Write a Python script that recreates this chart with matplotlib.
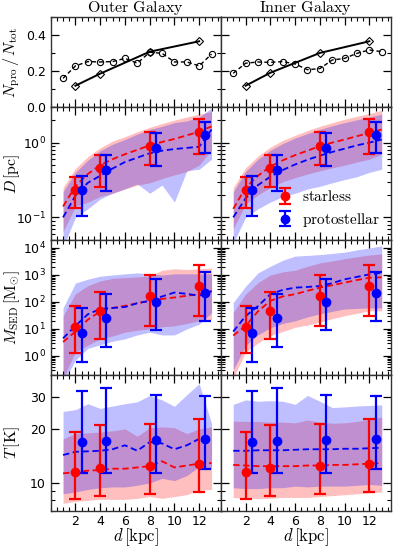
import numpy as np
import matplotlib
matplotlib.use("Agg")
import matplotlib.pyplot as plt
from matplotlib.ticker import MultipleLocator, FixedLocator, NullFormatter, FixedFormatter, LogLocator

plt.rcParams['mathtext.fontset'] = 'cm'
plt.rcParams['font.family'] = ['DejaVu Sans']
plt.rcParams['font.size'] = 9

# ---------------- data ----------------
xbin = [1, 2, 3, 4, 5, 6, 7, 8, 9, 10, 11, 12, 13]
x_star = [2, 4, 8, 12]
x_proto = [2.5, 4.5, 8.5, 12.5]
x_ticks = [2, 4, 6, 8, 10, 12]

# fraction panel
frac_diam_L = [0.118, 0.185, 0.307, 0.365]
frac_diam_R = [0.118, 0.190, 0.300, 0.365]
frac_circ_L = [0.159, 0.228, 0.252, 0.250, 0.252, 0.270, 0.243, 0.304, 0.298, 0.250, 0.250, 0.228, 0.294]
frac_circ_R = [0.187, 0.243, 0.250, 0.248, 0.252, 0.239, 0.207, 0.213, 0.261, 0.270, 0.298, 0.317, 0.307]

# D [pc]
D_star = [0.231, 0.464, 0.90, 1.40]
D_star_hi = [0.348, 0.677, 1.40, 2.09]
D_star_lo = [0.133, 0.257, 0.50, 0.713]
D_proto = [0.231, 0.427, 0.85, 1.25]
D_proto_hi = [0.36, 0.677, 1.33, 1.88]
D_proto_lo = [0.105, 0.222, 0.488, 0.736]

D_red_med_L = [0.14, 0.26, 0.38, 0.50, 0.60, 0.70, 0.80, 0.92, 1.02, 1.12, 1.25, 1.40, 1.65]
D_blue_med_L = [0.10, 0.195, 0.29, 0.36, 0.45, 0.55, 0.63, 0.72, 0.78, 0.82, 0.85, 0.88, 1.5]
D_red_hi_L = [0.25, 0.45, 0.65, 0.85, 1.05, 1.2, 1.4, 1.6, 1.8, 2.0, 2.2, 2.4, 2.6]
D_blue_hi_L = [0.22, 0.40, 0.58, 0.78, 0.95, 1.1, 1.3, 1.5, 1.65, 1.85, 1.95, 2.2, 2.9]
D_red_lo_L = [0.065, 0.14, 0.16, 0.19, 0.21, 0.24, 0.27, 0.29, 0.33, 0.37, 0.41, 0.5, 0.8]
D_blue_lo_L = [0.04, 0.10, 0.13, 0.176, 0.21, 0.24, 0.28, 0.21, 0.27, 0.16, 0.42, 0.44, 0.6]

D_red_med_R = [0.13, 0.25, 0.36, 0.48, 0.58, 0.68, 0.78, 0.90, 1.0, 1.1, 1.22, 1.35, 1.5]
D_blue_med_R = [0.10, 0.18, 0.27, 0.35, 0.43, 0.51, 0.59, 0.67, 0.75, 0.83, 0.92, 1.0, 1.1]
D_red_hi_R = [0.25, 0.46, 0.66, 0.87, 1.07, 1.25, 1.45, 1.65, 1.85, 2.05, 2.25, 2.45, 2.7]
D_blue_hi_R = [0.22, 0.41, 0.60, 0.79, 0.97, 1.15, 1.32, 1.5, 1.68, 1.85, 2.02, 2.2, 2.4]
D_red_lo_R = [0.07, 0.15, 0.20, 0.25, 0.30, 0.34, 0.38, 0.42, 0.46, 0.50, 0.55, 0.60, 0.70]
D_blue_lo_R = [0.045, 0.10, 0.13, 0.16, 0.19, 0.21, 0.24, 0.26, 0.29, 0.32, 0.35, 0.40, 0.44]

# M_SED [Msun]
M_star = [12.2, 45, 167, 390]
M_star_hi = [72, 243, 980, 2300]
M_star_lo = [1.3, 4.1, 12.6, 31]
M_proto = [7.0, 25, 104, 224]
M_proto_hi = [59, 193, 730, 1320]
M_proto_lo = [0.6, 2.1, 9.5, 20]

M_red_med_L = [3.3, 8, 22, 45, 60, 72, 90, 110, 130, 147, 170, 195, 250]
M_blue_med_L = [4.5, 13, 35, 55, 60, 65, 90, 110, 160, 224, 200, 170, 250]
M_red_hi_L = [30, 200, 400, 600, 750, 800, 850, 900, 1500, 1700, 1600, 1700, 1800]
M_blue_hi_L = [60, 500, 700, 900, 1000, 1100, 1200, 1100, 1000, 1100, 1100, 1100, 1100]
M_red_lo_L = [0.15, 1.4, 2.5, 4.3, 5.5, 7.6, 9, 10, 12, 13, 16, 20, 22]
M_blue_lo_L = [0.1, 0.7, 1.9, 2.6, 3.5, 4.3, 6, 7.6, 6, 6, 10, 15, 40]

M_red_med_R = [5.7, 13, 45, 110, 160, 195, 260, 340, 420, 520, 650, 790, 820]
M_blue_med_R = [8, 30, 70, 195, 280, 340, 360, 390, 500, 690, 850, 1050, 1200]
M_red_hi_R = [41, 195, 520, 1000, 1300, 1500, 2100, 2800, 3300, 4000, 4700, 5500, 6000]
M_blue_hi_R = [95, 380, 1200, 2100, 3500, 5000, 5300, 5700, 6300, 7000, 8500, 10000, 12000]
M_red_lo_R = [0.15, 1.4, 3, 5.7, 8, 11.5, 14, 18, 24, 31, 38, 47, 47]
M_blue_lo_R = [0.3, 2.4, 6, 11, 16, 20, 28, 36, 45, 55, 58, 60, 60]

# T [K]
T_star = [11.5, 12.1, 12.5, 12.8]
T_star_hi = [19.2, 20.9, 21.2, 22.6]
T_star_lo = [8.1, 8.5, 8.73, 8.9]
T_proto = [16.8, 17.1, 17.4, 17.5]
T_proto_hi = [32.3, 33.7, 30.7, 30.3]
T_proto_lo = [11.4, 11.4, 11.4, 11.9]

T_red_med_L = [11.3, 11.5, 11.7, 11.8, 12.0, 12.0, 12.2, 12.4, 13.2, 12.2, 12.5, 12.8, 12.9]
T_blue_med_L = [14.3, 14.9, 15.0, 15.1, 15.4, 16.2, 15.1, 16.9, 16.6, 15.4, 16.2, 17.6, 18.0]
T_red_hi_L = [17.6, 18.8, 19.0, 19.2, 19.5, 20.0, 18.2, 20.3, 20.5, 20.3, 18.8, 20.0, 20.5]
T_blue_hi_L = [25.0, 25.6, 27.6, 26.0, 26.8, 27.6, 28.3, 30.7, 29.0, 26.7, 31.0, 35.7, 21.4]
T_red_lo_L = [7.7, 7.9, 8.0, 8.1, 8.1, 8.1, 8.2, 8.4, 8.2, 8.4, 8.6, 9.1, 9.2]
T_blue_lo_L = [8.7, 8.9, 9.2, 9.4, 9.5, 9.5, 9.7, 10.0, 10.6, 10.3, 11.0, 12.3, 12.0]

T_red_med_R = [12.6, 12.5, 12.4, 12.4, 12.4, 12.4, 12.5, 12.5, 12.6, 12.6, 12.7, 12.8, 12.9]
T_blue_med_R = [15.1, 15.1, 15.2, 15.2, 15.2, 15.3, 15.4, 15.4, 15.4, 15.5, 15.5, 15.6, 15.7]
T_red_hi_R = [22.1, 22.0, 22.0, 21.8, 21.8, 21.6, 22.4, 21.8, 21.5, 21.6, 22.0, 22.6, 23.3]
T_blue_hi_R = [27.4, 29.0, 28.5, 28.7, 28.5, 27.4, 30.7, 28.5, 26.3, 26.5, 26.8, 27.0, 27.2]
T_red_lo_R = [8.3, 8.2, 8.2, 8.2, 8.3, 8.3, 8.3, 8.4, 8.5, 8.6, 8.7, 8.8, 8.9]
T_blue_lo_R = [9.4, 9.3, 9.3, 9.4, 9.4, 9.6, 9.5, 9.6, 9.6, 9.6, 9.7, 9.8, 9.7]

RED = '#ff0000'
BLUE = '#0000ff'

fig = plt.figure(figsize=(3.99, 5.48), dpi=100)
gs = fig.add_gridspec(4, 2, height_ratios=[90, 133, 135, 136], hspace=0, wspace=0,
                      left=0.127, right=0.98, top=0.969, bottom=0.068)
axes = [[fig.add_subplot(gs[r, c]) for c in range(2)] for r in range(4)]


def style(ax):
    ax.tick_params(which='both', direction='in', top=True, right=True, labelsize=9)
    ax.tick_params(which='major', length=5.5, width=0.9)
    ax.tick_params(which='minor', length=2.8, width=0.8)
    ax.tick_params(axis='x', pad=3)
    for s in ax.spines.values():
        s.set_linewidth(1.0)
        s.set_color('#333333')
    ax.set_xlim(0, 13.75)
    ax.xaxis.set_major_locator(FixedLocator(x_ticks))
    ax.xaxis.set_minor_locator(MultipleLocator(0.5))


def bands(ax, rlo, rhi, blo, bhi, rmed, bmed):
    ax.fill_between(xbin, rlo, rhi, color=RED, alpha=0.25, lw=0)
    ax.fill_between(xbin, blo, bhi, color=BLUE, alpha=0.25, lw=0)
    ax.plot(xbin, rmed, '--', color=RED, lw=1.3, dashes=(3.5, 2))
    ax.plot(xbin, bmed, '--', color=BLUE, lw=1.3, dashes=(3.5, 2))


def points(ax, ys, ys_lo, ys_hi, yp, yp_lo, yp_hi):
    ys, ys_lo, ys_hi = map(np.array, (ys, ys_lo, ys_hi))
    yp, yp_lo, yp_hi = map(np.array, (yp, yp_lo, yp_hi))
    h1 = ax.errorbar(x_star, ys, yerr=[ys - ys_lo, ys_hi - ys], fmt='o', color=RED,
                     ms=6, elinewidth=1.6, capsize=4, capthick=1.6, zorder=5)
    h2 = ax.errorbar(x_proto, yp, yerr=[yp - yp_lo, yp_hi - yp], fmt='o', color=BLUE,
                     ms=6, elinewidth=1.6, capsize=4, capthick=1.6, zorder=5)
    return h1, h2


# --- row 0: fraction
for c, (dia, circ) in enumerate([(frac_diam_L, frac_circ_L), (frac_diam_R, frac_circ_R)]):
    ax = axes[0][c]
    ax.plot(xbin, circ, '--', color='k', lw=1.0, marker='o', ms=4.5, mfc='none',
            mec='k', mew=0.8, dashes=(3, 2))
    ax.plot(x_star, dia, '-', color='k', lw=1.4, marker='D', ms=4.5, mfc='none',
            mec='k', mew=0.8)
    ax.set_ylim(0, 0.5)
    ax.yaxis.set_major_locator(MultipleLocator(0.2))
    ax.yaxis.set_minor_locator(MultipleLocator(0.1))

axes[0][0].set_title(r'$\mathrm{Outer\ Galaxy}$', fontsize=11.5, pad=0.5)
axes[0][1].set_title(r'$\mathrm{Inner\ Galaxy}$', fontsize=11.5, pad=0.5)
axes[0][0].set_ylabel(r'$N_{\rm pro}\,/\,N_{\rm tot}$', fontsize=11.5)

# --- row 1: D
Dsets = [(D_red_lo_L, D_red_hi_L, D_blue_lo_L, D_blue_hi_L, D_red_med_L, D_blue_med_L),
         (D_red_lo_R, D_red_hi_R, D_blue_lo_R, D_blue_hi_R, D_red_med_R, D_blue_med_R)]
for c in range(2):
    ax = axes[1][c]
    ax.set_yscale('log')
    bands(ax, *Dsets[c])
    h = points(ax, D_star, D_star_lo, D_star_hi, D_proto, D_proto_lo, D_proto_hi)
    ax.set_ylim(0.05, 3)
    if c == 1:
        ax.legend(h, [r'$\mathrm{starless}$', r'$\mathrm{protostellar}$'], loc='lower right',
                  frameon=False, fontsize=11, handlelength=1.0, handletextpad=0.6,
                  borderaxespad=0.3, labelspacing=0.45, numpoints=1)
axes[1][0].set_ylabel(r'$D\,[\mathrm{pc}]$', fontsize=11.5)

# --- row 2: M
Msets = [(M_red_lo_L, M_red_hi_L, M_blue_lo_L, M_blue_hi_L, M_red_med_L, M_blue_med_L),
         (M_red_lo_R, M_red_hi_R, M_blue_lo_R, M_blue_hi_R, M_red_med_R, M_blue_med_R)]
for c in range(2):
    ax = axes[2][c]
    ax.set_yscale('log')
    bands(ax, *Msets[c])
    points(ax, M_star, M_star_lo, M_star_hi, M_proto, M_proto_lo, M_proto_hi)
    ax.set_ylim(0.2, 2e4)
    ax.yaxis.set_major_locator(LogLocator(base=10, numticks=10))
    ax.yaxis.set_minor_locator(LogLocator(base=10, subs=np.arange(2, 10), numticks=20))
    ax.yaxis.set_minor_formatter(NullFormatter())
axes[2][0].set_ylabel(r'$M_{\rm SED}\,[\mathrm{M}_{\odot}]$', fontsize=11.5)

# --- row 3: T
Tsets = [(T_red_lo_L, T_red_hi_L, T_blue_lo_L, T_blue_hi_L, T_red_med_L, T_blue_med_L),
         (T_red_lo_R, T_red_hi_R, T_blue_lo_R, T_blue_hi_R, T_red_med_R, T_blue_med_R)]
for c in range(2):
    ax = axes[3][c]
    ax.set_yscale('log')
    bands(ax, *Tsets[c])
    points(ax, T_star, T_star_lo, T_star_hi, T_proto, T_proto_lo, T_proto_hi)
    ax.set_ylim(7, 40)
    ax.yaxis.set_major_locator(FixedLocator([10, 20, 30]))
    ax.yaxis.set_major_formatter(FixedFormatter(['10', '20', '30']))
    ax.yaxis.set_minor_locator(FixedLocator([7, 8, 9, 40]))
    ax.yaxis.set_minor_formatter(NullFormatter())
    ax.set_xlabel(r'$d\,[\mathrm{kpc}]$', fontsize=12, labelpad=-1)
axes[3][0].set_ylabel(r'$T\,[\mathrm{K}]$', fontsize=11.5)

for r in range(4):
    for c in range(2):
        ax = axes[r][c]
        style(ax)
        if r < 3:
            ax.tick_params(labelbottom=False)
        if c == 1:
            ax.tick_params(labelleft=False)

for r in range(4):
    axes[r][0].yaxis.set_label_coords(-0.168, 0.5)

fig.savefig('out.png', dpi=100)
